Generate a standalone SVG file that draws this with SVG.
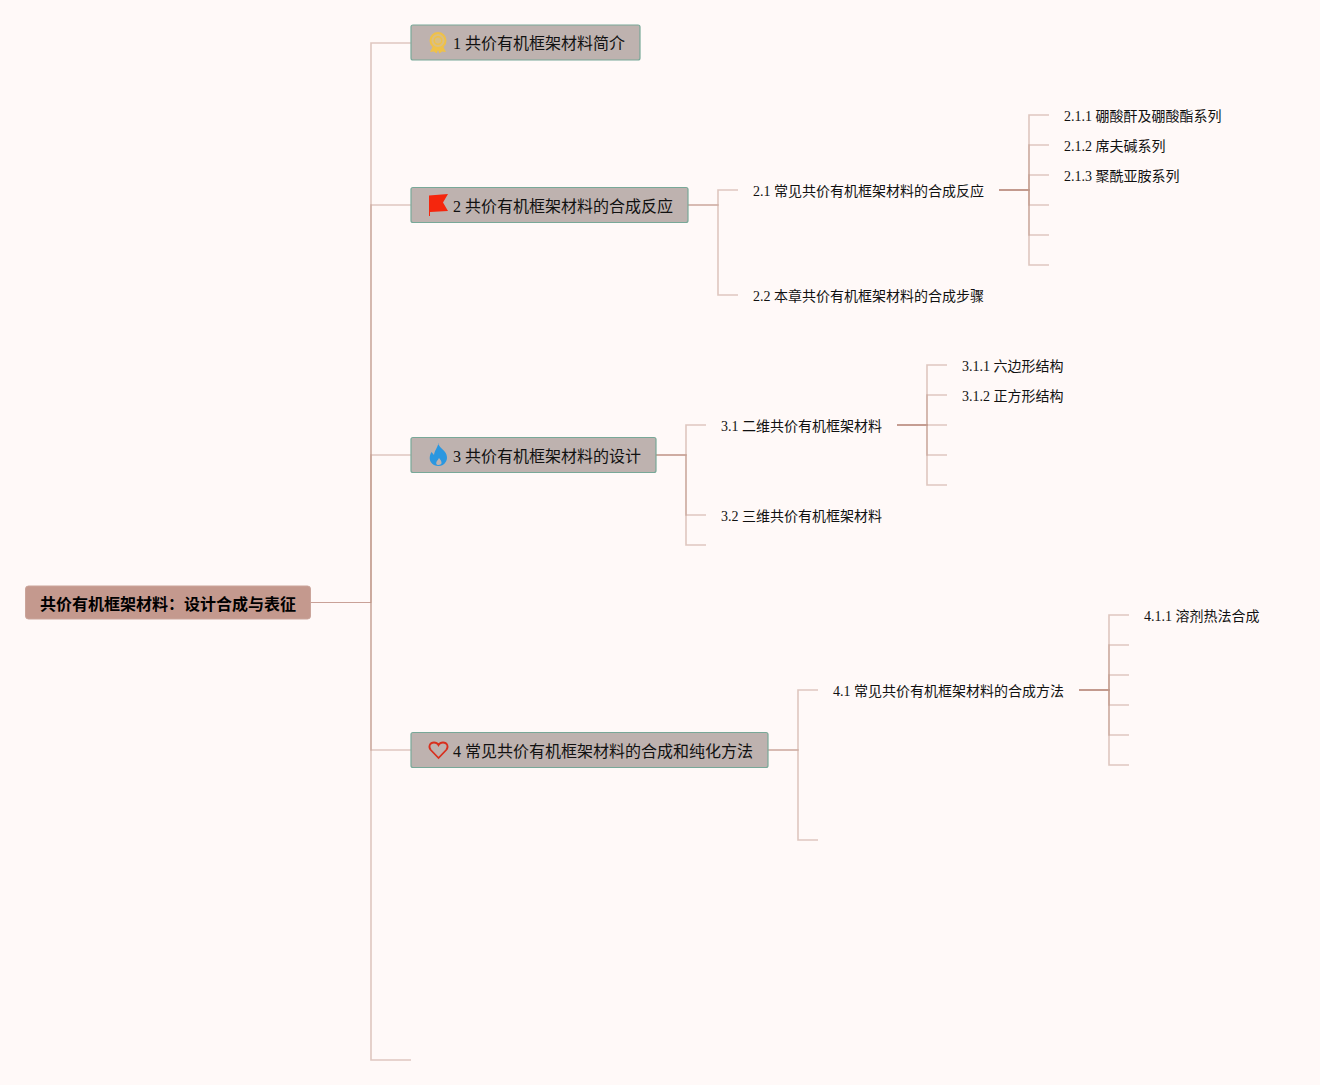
<svg xmlns="http://www.w3.org/2000/svg" width="1320" height="1085" viewBox="0 0 1320 1085">
<style>
text{font-family:"Liberation Serif","Noto Sans CJK SC",serif;fill:#111;white-space:pre}
.root{font-size:16px;font-weight:700;fill:#000}
.t1{font-size:16px}
.t2,.t3{font-size:14px}
.box{fill:#beb2af;stroke:#78a898;stroke-width:1.2}
.rootbox{fill:#c4998e;stroke:#cba59b;stroke-width:1}
.c{fill:none;stroke:#bf9588;stroke-opacity:.5;stroke-width:1.6}
</style>
<rect width="1320" height="1085" fill="#fff9f8"/>
<g id="connectors">
<path d="M311 602.500H371" fill="none" stroke="#c9a198" stroke-width="1"/>
<path class="c" d="M371 603V43H411"/>
<path class="c" d="M371 603V205H411"/>
<path class="c" d="M371 603V455H411"/>
<path class="c" d="M371 603V750H411"/>
<path class="c" d="M371 603V1060H411"/>
<path class="c" d="M688 205H718V190H738"/>
<path class="c" d="M688 205H718V295H738"/>
<path class="c" d="M999 190H1029V115H1049"/>
<path class="c" d="M999 190H1029V145H1049"/>
<path class="c" d="M999 190H1029V175H1049"/>
<path class="c" d="M999 190H1029V205H1049"/>
<path class="c" d="M999 190H1029V235H1049"/>
<path class="c" d="M999 190H1029V265H1049"/>
<path class="c" d="M656 455H686V425H706"/>
<path class="c" d="M656 455H686V515H706"/>
<path class="c" d="M656 455H686V545H706"/>
<path class="c" d="M897 425H927V365H947"/>
<path class="c" d="M897 425H927V395H947"/>
<path class="c" d="M897 425H927V425H947"/>
<path class="c" d="M897 425H927V455H947"/>
<path class="c" d="M897 425H927V485H947"/>
<path class="c" d="M768 750H798V690H818"/>
<path class="c" d="M768 750H798V840H818"/>
<path class="c" d="M1079 690H1109V615H1129"/>
<path class="c" d="M1079 690H1109V645H1129"/>
<path class="c" d="M1079 690H1109V675H1129"/>
<path class="c" d="M1079 690H1109V705H1129"/>
<path class="c" d="M1079 690H1109V735H1129"/>
<path class="c" d="M1079 690H1109V765H1129"/>
</g>
<g id="root"><rect class="rootbox" x="25.500" y="586" width="285" height="33" rx="3"/><text class="root" x="40" y="610">共价有机框架材料：设计合成与表征</text></g>
<g id="n1"><rect class="box" x="411" y="25" width="229" height="35" rx="2"/>
<path fill="#efc148" d="M432.500 47l-2.500 5 4-.5 2.500 2 1.500-3.500 1.500 3.500 2.500-2 4 .5-2.500-5z"/>
<circle cx="438" cy="40.500" r="7.500" fill="#d9bf85" stroke="#efc148" stroke-width="2"/>
<circle cx="438" cy="40.500" r="3.800" fill="#d9bf85" stroke="#efc148" stroke-width="1.500"/>
<text class="t1" x="453" y="49">1 共价有机框架材料简介</text></g>
<g id="n2"><rect class="box" x="411" y="187.500" width="277" height="35" rx="2"/>
<path fill="#f5260d" d="M429 195.500l19-1.500-5 8.500 5 8.500-18 1v4h-1z"/>
<text class="t1" x="453" y="212">2 共价有机框架材料的合成反应</text></g>
<g id="n3"><rect class="box" x="411" y="437.500" width="245" height="35" rx="2"/>
<path fill="#2b97e0" fill-rule="evenodd" d="M438 443c1 4 4.500 5.500 7 9 2.500 3.500 2.500 7 1 9.500-1.500 3-4.500 4.500-7.500 4.500s-6.500-1.500-8-4.500c-1.500-3-.5-7 1-9.500l2.500 3c.5-4.500 3.500-7 4.500-12zm1 15c-1 2-3 3.500-2.800 5.500.2 1 1.300 1.500 2.500 1.500s2.500-.5 2.800-1.700c.4-2-1.200-3.500-2.500-5.300z"/>
<text class="t1" x="453" y="462">3 共价有机框架材料的设计</text></g>
<g id="n4"><rect class="box" x="411" y="732.500" width="357" height="35" rx="2"/>
<path fill="none" stroke="#d8301e" stroke-width="1.800" d="M438.500 758l-7.700-8c-2.800-3.300-1-7.500 3.200-7.500 2.200 0 3.600 1 4.500 2.700.9-1.700 2.300-2.700 4.500-2.700 4.200 0 6 4.200 3.200 7.500z"/>
<text class="t1" x="453" y="757">4 常见共价有机框架材料的合成和纯化方法</text></g>
<g id="n21"><text class="t2" x="753" y="196">2.1 常见共价有机框架材料的合成反应</text></g>
<g id="n22"><text class="t2" x="753" y="301">2.2 本章共价有机框架材料的合成步骤</text></g>
<g id="n211"><text class="t3" x="1064" y="121">2.1.1 硼酸酐及硼酸酯系列</text></g>
<g id="n212"><text class="t3" x="1064" y="151">2.1.2 席夫碱系列</text></g>
<g id="n213"><text class="t3" x="1064" y="181">2.1.3 聚酰亚胺系列</text></g>
<g id="n31"><text class="t2" x="721" y="431">3.1 二维共价有机框架材料</text></g>
<g id="n32"><text class="t2" x="721" y="521">3.2 三维共价有机框架材料</text></g>
<g id="n311"><text class="t3" x="962" y="371">3.1.1 六边形结构</text></g>
<g id="n312"><text class="t3" x="962" y="401">3.1.2 正方形结构</text></g>
<g id="n41"><text class="t2" x="833" y="696">4.1 常见共价有机框架材料的合成方法</text></g>
<g id="n411"><text class="t3" x="1144" y="621">4.1.1 溶剂热法合成</text></g>
</svg>
